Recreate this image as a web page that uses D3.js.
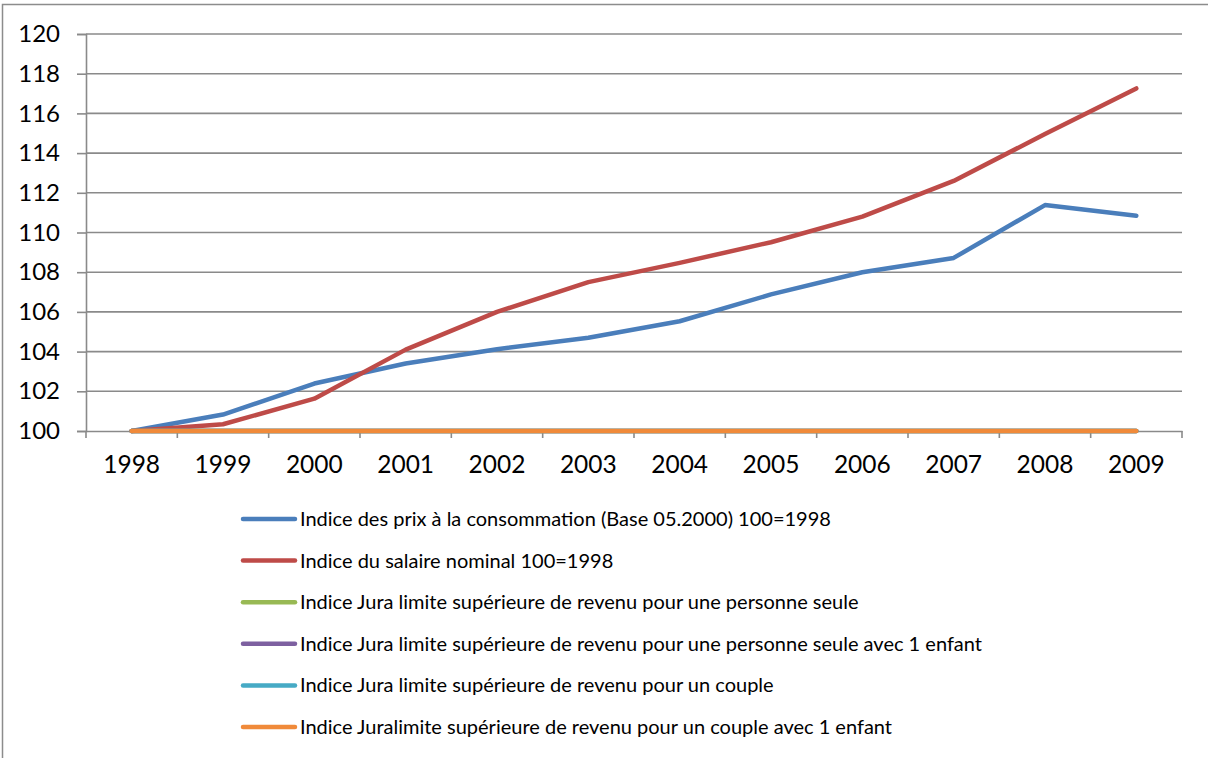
<!DOCTYPE html>
<html><head><meta charset="utf-8">
<script src="https://cdn.jsdelivr.net/npm/d3@7"></script>
<style>body{margin:0;background:#fff}svg{display:block}text{font-family:Lato,"Noto Sans",sans-serif;fill:#000}</style>
</head><body><svg id="c" width="1208" height="758"></svg>
<script>
const years = ["1998","1999","2000","2001","2002","2003","2004","2005","2006","2007","2008","2009"];
const yTicks = [100,102,104,106,108,110,112,114,116,118,120];
const prix = [100,100.83,102.39,103.4,104.12,104.7,105.53,106.88,108.0,108.72,111.38,110.84];
const salaire = [100,100.34,101.63,104.1,106.0,107.5,108.47,109.51,110.8,112.6,114.96,117.26];
const juraSeule = [100,100,100,100,100,100,100,100,100,100,100,100];
const juraSeuleEnfant = [100,100,100,100,100,100,100,100,100,100,100,100];
const juraCouple = [100,100,100,100,100,100,100,100,100,100,100,100];
const juraCoupleEnfant = [100,100,100,100,100,100,100,100,100,100,100,100];
const seriesNames = [
 "Indice des prix à la consommation (Base 05.2000) 100=1998",
 "Indice du salaire nominal 100=1998",
 "Indice Jura limite supérieure de revenu pour une personne seule",
 "Indice Jura limite supérieure de revenu pour une personne seule avec 1 enfant",
 "Indice Jura limite supérieure de revenu pour un couple",
 "Indice Juralimite supérieure de revenu pour un couple avec 1 enfant"];
const seriesColors = ["#4A7EBB","#BE4B48","#98B954","#7D60A0","#46AAC5","#F08A3A"];
const seriesData = [prix,salaire,juraSeule,juraSeuleEnfant,juraCouple,juraCoupleEnfant];

const svg = d3.select("#c");
svg.append("rect").attr("x",2.5).attr("y",4.5).attr("width",1215).attr("height",770)
  .attr("fill","#fff").attr("stroke","#8c8c8c").attr("stroke-width",1.5);

const L=86, R=1182, T=34, B=431;
const x = d3.scaleBand().domain(years).range([L,R]);
const y = d3.scaleLinear().domain([100,120]).range([B,T]);
const grid="#8a8a8a";
const font="Lato,'Noto Sans',sans-serif";

svg.append("g").selectAll("line").data(yTicks.filter(d=>d>100)).join("line")
  .attr("x1",L).attr("x2",R).attr("y1",d=>y(d)).attr("y2",d=>y(d))
  .attr("stroke",grid).attr("stroke-width",1.6);

const ya = svg.append("g").attr("transform",`translate(${L},0)`)
  .call(d3.axisLeft(y).tickValues(yTicks).tickSize(9).tickPadding(17).tickFormat(d3.format("d")));
ya.select(".domain").attr("stroke",grid).attr("stroke-width",1.6);
ya.selectAll(".tick line").attr("stroke",grid).attr("stroke-width",1.6);
ya.selectAll("text").style("font-size","24px").style("font-family",font).attr("fill","#000");

const xa = svg.append("g").attr("transform",`translate(0,${B})`)
  .call(d3.axisBottom(x).tickSize(0).tickPadding(25));
xa.select(".domain").attr("stroke",grid).attr("stroke-width",1.6);
xa.selectAll("text").style("font-size","24.5px").style("font-family",font).attr("fill","#000");
svg.append("g").selectAll("line").data(d3.range(years.length+1)).join("line")
  .attr("x1",i=>L+i*x.step()).attr("x2",i=>L+i*x.step())
  .attr("y1",B).attr("y2",B+7).attr("stroke",grid).attr("stroke-width",1.6);

const line = d3.line().x((d,i)=>x(years[i])+x.bandwidth()/2).y(d=>y(d));
seriesData.forEach((s,k)=>{
  svg.append("path").datum(s).attr("d",line).attr("fill","none")
    .attr("stroke",seriesColors[k]).attr("stroke-width",4.5)
    .attr("stroke-linecap","round").attr("stroke-linejoin","round");
});

const lg = svg.append("g");
seriesNames.forEach((n,k)=>{
  const yy = 519 + k*41.6;
  lg.append("line").attr("x1",243).attr("x2",295).attr("y1",yy).attr("y2",yy)
    .attr("stroke",seriesColors[k]).attr("stroke-width",4.5).attr("stroke-linecap","round");
  lg.append("text").attr("x",300).attr("y",yy).attr("dy","0.35em")
    .style("font-size","20px").text(n);
});
</script></body></html>
